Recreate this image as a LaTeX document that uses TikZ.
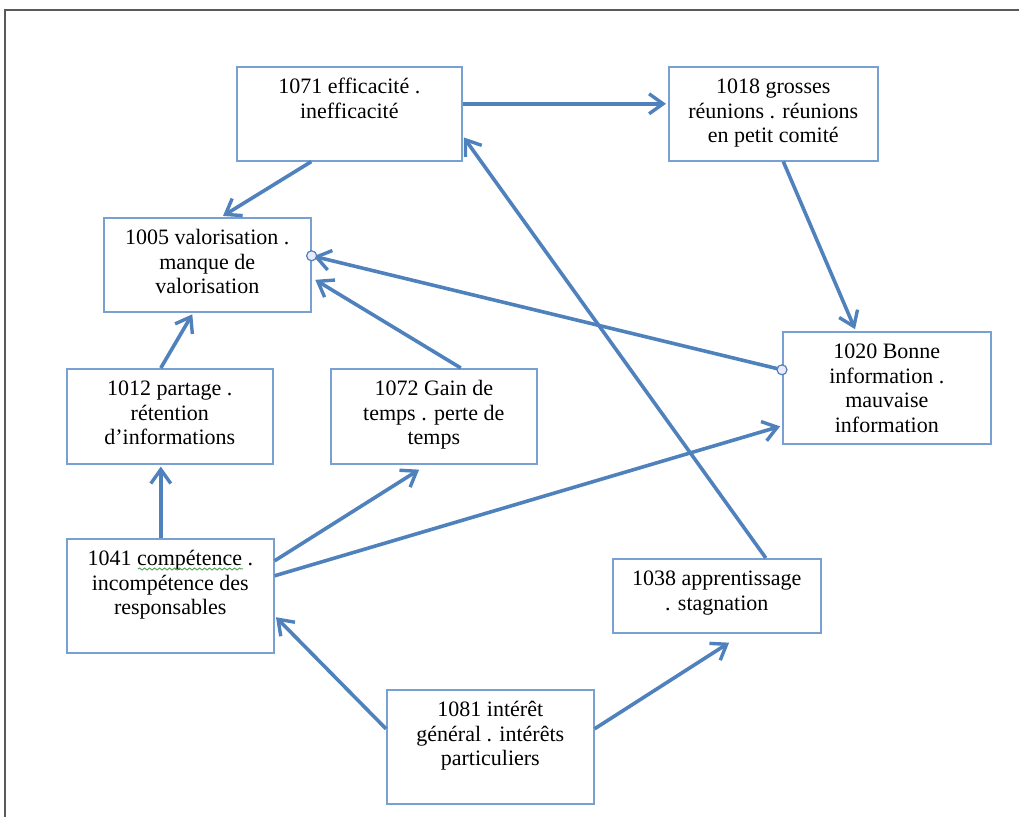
\documentclass[tikz,border=0pt]{standalone}
\usepackage{fontspec}
\setmainfont{Liberation Serif}
\usepackage{xcolor}
\usetikzlibrary{arrows.meta,calc,decorations.pathmorphing}

\definecolor{linkblue}{RGB}{79,129,189}
\definecolor{boxblue}{RGB}{120,160,210}
\definecolor{spellgreen}{RGB}{90,170,90}

% top-aligned text inside a box of fixed size
\newcommand{\boxtxt}[3]{\parbox[c][#2][t]{#1}{\centering\strut #3}}

\begin{document}
\begin{tikzpicture}[
    x=0.5pt, y=-0.5pt,
    concept/.style={rectangle, draw=boxblue, line width=0.8pt, fill=white, inner xsep=0pt, inner ysep=5pt, anchor=north west, font=\fontsize{11}{12.25}\selectfont},
    link/.style={-{Straight Barb[length=7pt,width=10pt,line width=1.7pt]}, draw=linkblue, line width=1.8pt, shorten >=1pt},
    glue/.style={circle, draw=linkblue, fill=blue!8, line width=0.6pt, inner sep=0pt, minimum size=5pt},
    spell/.style={draw=spellgreen, line width=0.5pt, decorate, decoration={snake, amplitude=0.5pt, segment length=2.5pt}}
]
\useasboundingbox (0,0) rectangle (1019,817);

% page frame
\draw[gray!70!black, line width=1.2pt] (5,817) -- (5,10) -- (1019,10);

% Concepts
\node[concept] (eff) at (236,66) {\boxtxt{112.5pt}{37pt}{1071 efficacité .\\ inefficacité}};
\node[concept] (reu) at (668,66) {\boxtxt{104.5pt}{37pt}{1018 grosses\\ réunions . réunions\\ en petit comité}};
\node[concept] (val) at (103,217) {\boxtxt{103.5pt}{37pt}{1005 valorisation .\\ manque de\\ valorisation}};
\node[concept] (part) at (66,368) {\boxtxt{103pt}{37.5pt}{1012 partage .\\ rétention\\ d’informations}};
\node[concept] (gain) at (330,368) {\boxtxt{103pt}{37.5pt}{1072 Gain de\\ temps . perte de\\ temps}};
\node[concept] (info) at (782,331) {\boxtxt{104pt}{46pt}{1020 Bonne\\ information .\\ mauvaise\\ information}};
\node[concept] (comp) at (66,538) {\boxtxt{103.5pt}{47pt}{1041 compétence .\\ incompétence des\\ responsables}};
\node[concept] (appr) at (612,558) {\boxtxt{104pt}{27pt}{1038 apprentissage\\ . stagnation}};
\node[concept] (inter) at (386,689) {\boxtxt{103.5pt}{47pt}{1081 intérêt\\ général . intérêts\\ particuliers}};

% spelling mark
\draw[spell] ($(comp.north west)+(72,31)$) -- ++(105,0);

% Links
\draw[link] ($(eff.east)+(0,-10)$) -- ($(reu.west)+(0,-10)$);
\draw[link] ($(eff.south)+(-38,0)$) -- ($(val.north)+(14,0)$);
\draw[link] ($(reu.south)+(10,0)$) -- ($(info.north)+(-31,0)$);
\draw[link] ($(gain.north)+(27,0)$) -- ($(val.east)+(2,14)$);
\draw[link] ($(part.north)+(-9,0)$) -- ($(val.south)+(-14,0)$);
\draw[link] ($(comp.north)+(-9.5,0)$) -- ($(part.south)+(-9,0)$);
\draw[link] ($(comp.east)+(0,-35)$) -- ($(gain.south)+(-13,4)$);
\draw[link] ($(comp.east)+(0,-20)$) -- ($(info.west)+(0,38)$);
\draw[link] ($(appr.north)+(49,0)$) -- ($(eff.east)+(0,22)$);
\draw[link] ($(inter.west)+(0,-18)$) -- ($(comp.east)+(0,20)$);
\draw[link] ($(inter.east)+(0,-18)$) -- ($(appr.south)+(14,8)$);

% glued connector between 1020 and 1005
\coordinate (infoglue) at ($(info.west)+(0,-18)$);
\coordinate (valglue) at ($(val.east)+(0,-9)$);
\draw[link] (infoglue) -- (valglue);
\node[glue] at (infoglue) {};
\node[glue] at (valglue) {};

\end{tikzpicture}
\end{document}
